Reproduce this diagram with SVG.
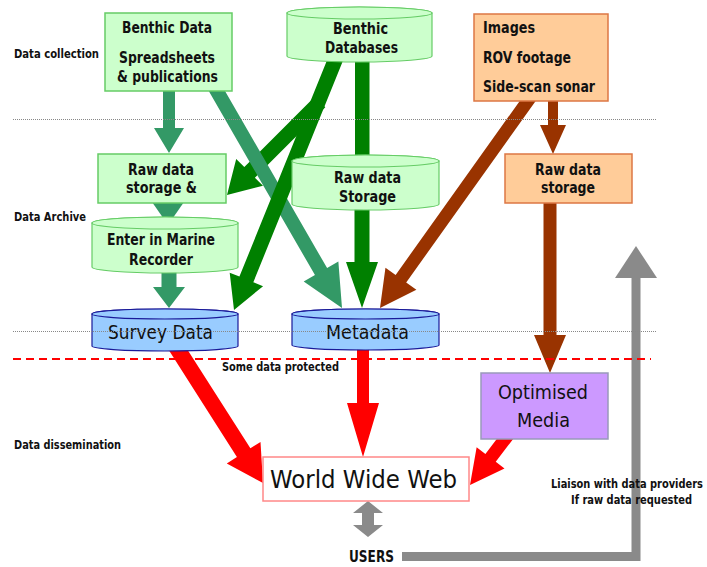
<svg xmlns="http://www.w3.org/2000/svg" width="707" height="567" viewBox="0 0 707 567">
  <style>
    .bg { fill: #ffffff; }
    .teal { fill: #339966; }
    .dkgreen { fill: #008000; }
    .brown { fill: #993300; }
    .red { fill: #ff0000; }
    .grey { fill: #8a8a8a; }
    .greybar { fill: none; stroke: #8a8a8a; stroke-width: 9; stroke-linejoin: miter; }
    .gbox { fill: #ccffcc; stroke: #66cc66; stroke-width: 1.5; }
    .obox { fill: #ffcc99; stroke: #dd7744; stroke-width: 1.5; }
    .pbox { fill: #cc99ff; stroke: #9999bb; stroke-width: 1.5; }
    .wbox { fill: #ffffff; stroke: #ff8888; stroke-width: 1.5; }
    .bcyl { fill: #99ccff; stroke: #1a1a99; stroke-width: 1.2; }
    .gcyl { fill: #ccffcc; stroke: #66cc66; stroke-width: 1.2; }
    .tb { font-family: "DejaVu Sans", Verdana, sans-serif; font-weight: bold; font-size: 15px; fill: #111; }
    .lbl { font-family: "DejaVu Sans", Verdana, sans-serif; font-weight: bold; font-size: 12px; fill: #111; }
    .tr { font-family: "DejaVu Sans", Verdana, sans-serif; font-size: 19px; fill: #111; }
    .sep { stroke: #888; stroke-width: 1; stroke-dasharray: 1 1; fill: none; }
    .prot { stroke: #ff0000; stroke-width: 2; stroke-dasharray: 8 5; fill: none; }
  </style>

  <rect class="bg" x="0" y="0" width="707" height="567"/>

  <!-- stage labels -->
  <g id="stage-labels">
    <text class="lbl" x="14" y="58" textLength="85" lengthAdjust="spacingAndGlyphs">Data collection</text>
    <text class="lbl" x="14" y="221" textLength="72" lengthAdjust="spacingAndGlyphs">Data Archive</text>
    <text class="lbl" x="14" y="449" textLength="107" lengthAdjust="spacingAndGlyphs">Data dissemination</text>
  </g>

  <!-- connectors -->
  <g id="connectors">
    <!-- Benthic Data -> Raw data storage & -->
    <polygon class="teal" points="163,88 175,88 175,128 184,128 169,153 154,128 163,128"/>
    <!-- Raw data storage & -> Enter in Marine Recorder -->
    <polygon class="teal" points="152,202 184,202 168,225"/>
    <!-- Enter in Marine Recorder -> Survey Data -->
    <polygon class="teal" points="161.5,270 176.5,270 176.5,287 185,287 169,308 153,287 161.5,287"/>
    <!-- Benthic Databases -> Raw data storage & -->
    <polygon class="dkgreen" points="314.7,96.7 244.3,167.1 236.2,159 227,195 263,185.8 254.9,177.7 325.3,107.3"/>
    <!-- Benthic Data -> Metadata -->
    <polygon class="teal" points="207.9,89.5 314.96,275.09 303.7,281.58 342,308 338.36,261.62 327.1,268.11 220.1,82.5"/>
    <!-- Benthic Databases -> Survey Data -->
    <polygon class="dkgreen" points="329.05,55.19 239.43,276.61 229.7,272.67 234,310 263.06,286.17 253.33,282.23 342.95,60.81"/>
    <!-- Benthic Databases -> Raw data Storage -> Metadata -->
    <rect class="dkgreen" x="355" y="58" width="14.5" height="100"/>
    <polygon class="dkgreen" points="354.5,206 369.5,206 369.5,262 378,262 362,308 346,262 354.5,262"/>
    <!-- Images -> Metadata -->
    <polygon class="brown" points="526.7,91.2 395.63,274.93 385.46,267.67 380,308 416.38,289.75 406.21,282.49 537.3,98.8"/>
    <!-- Images -> Raw data storage -->
    <polygon class="brown" points="548,98 558,98 558,125 566,125 553,154 540,125 548,125"/>
    <!-- Raw data storage -> Optimised Media -->
    <polygon class="brown" points="543.5,200 556.5,200 556.5,335 566,335 550,373 534,335 543.5,335"/>
    <!-- Survey Data -> World Wide Web -->
    <polygon class="red" points="168.26,349.3 236.91,456.95 226.79,463.4 263,483 260.51,441.9 250.39,448.35 181.74,340.7"/>
    <!-- Metadata -> World Wide Web -->
    <polygon class="red" points="357,342 369,342 369,403 379,403 363,457 347,403 357,403"/>
    <!-- Optimised Media -> World Wide Web -->
    <polygon class="red" points="502.83,431.07 485.4,454.01 476.64,447.35 470,485 504.5,468.53 495.74,461.87 513.17,438.93"/>
    <!-- World Wide Web <-> USERS -->
    <polygon class="grey" points="368,501 383,513 374,513 374,525 383,525 368,537 353,525 362,525 362,513 353,513"/>
    <!-- USERS -> liaison with data providers -->
    <polyline class="greybar" points="402,556.5 636,556.5 636,276"/>
    <polygon class="grey" points="615,278 657,278 636,246"/>
  </g>

  <!-- nodes -->
  <g id="benthic-data">
    <rect class="gbox" x="105" y="13" width="127" height="78"/>
    <text class="tb" x="122" y="33" textLength="90" lengthAdjust="spacingAndGlyphs">Benthic Data</text>
    <text class="tb" x="119" y="63" textLength="96" lengthAdjust="spacingAndGlyphs">Spreadsheets</text>
    <text class="tb" x="117" y="82" textLength="101" lengthAdjust="spacingAndGlyphs">&amp; publications</text>
  </g>

  <g id="benthic-databases">
    <path class="gcyl" d="M287,13 L287,56 A72.5,6 0 0 0 432,56 L432,13 A72.5,6 0 0 0 287,13 Z"/>
    <ellipse class="gcyl" cx="359.5" cy="13" rx="72.5" ry="6"/>
    <text class="tb" x="333" y="34" textLength="55" lengthAdjust="spacingAndGlyphs">Benthic</text>
    <text class="tb" x="325" y="53" textLength="73" lengthAdjust="spacingAndGlyphs">Databases</text>
  </g>

  <g id="images">
    <rect class="obox" x="474" y="14" width="134" height="87"/>
    <text class="tb" x="483" y="33" textLength="52" lengthAdjust="spacingAndGlyphs">Images</text>
    <text class="tb" x="483" y="63" textLength="88" lengthAdjust="spacingAndGlyphs">ROV footage</text>
    <text class="tb" x="483" y="92" textLength="112" lengthAdjust="spacingAndGlyphs">Side-scan sonar</text>
  </g>

  <g id="raw-storage-green">
    <rect class="gbox" x="98" y="154" width="128" height="49"/>
    <text class="tb" x="128" y="175" textLength="66" lengthAdjust="spacingAndGlyphs">Raw data</text>
    <text class="tb" x="126" y="193" textLength="71" lengthAdjust="spacingAndGlyphs">storage &amp;</text>
  </g>

  <g id="raw-storage-db">
    <path class="gcyl" d="M292,161 L292,204 A73.5,6 0 0 0 439,204 L439,161 A73.5,6 0 0 0 292,161 Z"/>
    <ellipse class="gcyl" cx="365.5" cy="161" rx="73.5" ry="6"/>
    <text class="tb" x="334" y="183" textLength="67" lengthAdjust="spacingAndGlyphs">Raw data</text>
    <text class="tb" x="339" y="202" textLength="57" lengthAdjust="spacingAndGlyphs">Storage</text>
  </g>

  <g id="raw-storage-media">
    <rect class="obox" x="505" y="154" width="127" height="49"/>
    <text class="tb" x="535" y="175" textLength="66" lengthAdjust="spacingAndGlyphs">Raw data</text>
    <text class="tb" x="541" y="193" textLength="54" lengthAdjust="spacingAndGlyphs">storage</text>
  </g>

  <g id="marine-recorder">
    <path class="gcyl" d="M92,223 L92,267 A73,6 0 0 0 238,267 L238,223 A73,6 0 0 0 92,223 Z"/>
    <ellipse class="gcyl" cx="165" cy="223" rx="73" ry="6"/>
    <text class="tb" x="107" y="245" textLength="108" lengthAdjust="spacingAndGlyphs">Enter in Marine</text>
    <text class="tb" x="129" y="265" textLength="64" lengthAdjust="spacingAndGlyphs">Recorder</text>
  </g>

  <g id="survey-data">
    <path class="bcyl" d="M92,314 L92,346 A73,5 0 0 0 238,346 L238,314 A73,5 0 0 0 92,314 Z"/>
    <ellipse class="bcyl" cx="165" cy="314" rx="73" ry="5"/>
    <text class="tr" x="108" y="339" textLength="105" lengthAdjust="spacingAndGlyphs">Survey Data</text>
  </g>

  <g id="metadata">
    <path class="bcyl" d="M292,314 L292,345 A73.5,5 0 0 0 439,345 L439,314 A73.5,5 0 0 0 292,314 Z"/>
    <ellipse class="bcyl" cx="365.5" cy="314" rx="73.5" ry="5"/>
    <text class="tr" x="326" y="339" textLength="83" lengthAdjust="spacingAndGlyphs">Metadata</text>
  </g>

  <g id="optimised-media">
    <rect class="pbox" x="481" y="373" width="127" height="66"/>
    <text class="tr" x="498" y="399" style="font-size:20px" textLength="90" lengthAdjust="spacingAndGlyphs">Optimised</text>
    <text class="tr" x="517" y="427" style="font-size:20px" textLength="53" lengthAdjust="spacingAndGlyphs">Media</text>
  </g>

  <g id="world-wide-web">
    <rect class="wbox" x="263" y="457" width="206" height="44"/>
    <text class="tr" x="270" y="488" style="font-size:25px" textLength="187" lengthAdjust="spacingAndGlyphs">World Wide Web</text>
  </g>

  <g id="users">
    <text class="tb" x="349" y="562" textLength="45" lengthAdjust="spacingAndGlyphs">USERS</text>
  </g>

  <!-- stage boundaries -->
  <g id="boundaries">
    <line class="sep" x1="13" y1="119.5" x2="656" y2="119.5"/>
    <line class="sep" x1="13" y1="331.5" x2="656" y2="331.5"/>
    <line class="prot" x1="13" y1="359" x2="651" y2="359"/>
    <text class="lbl" x="222" y="371" textLength="117" lengthAdjust="spacingAndGlyphs">Some data protected</text>
  </g>

  <g id="liaison-note">
    <text class="lbl" x="551" y="488" textLength="152" lengthAdjust="spacingAndGlyphs">Liaison with data providers</text>
    <text class="lbl" x="571" y="504" textLength="121" lengthAdjust="spacingAndGlyphs">If raw data requested</text>
  </g>
</svg>
